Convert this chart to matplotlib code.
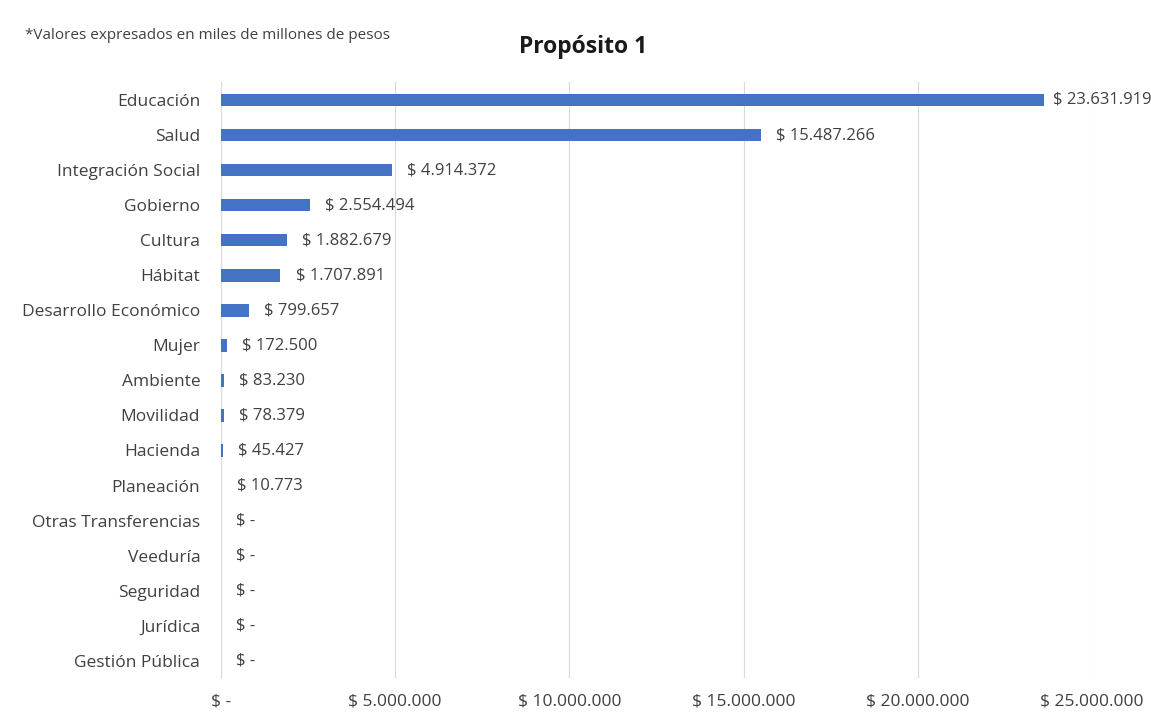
import matplotlib.pyplot as plt
from matplotlib.ticker import FuncFormatter

categorias = ['Educación', 'Salud', 'Integración Social', 'Gobierno', 'Cultura', 'Hábitat',
              'Desarrollo Económico', 'Mujer', 'Ambiente', 'Movilidad', 'Hacienda', 'Planeación',
              'Otras Transferencias', 'Veeduría', 'Seguridad', 'Jurídica', 'Gestión Pública']
valores = [23631919, 15487266, 4914372, 2554494, 1882679, 1707891,
           799657, 172500, 83230, 78379, 45427, 10773,
           0, 0, 0, 0, 0]
ticks_x = [0, 5000000, 10000000, 15000000, 20000000, 25000000]

plt.rcParams['font.family'] = ['Open Sans', 'DejaVu Sans']


def pesos(v, pos=None):
    if v == 0:
        return '$ -'
    return '$ ' + f'{int(round(v)):,}'.replace(',', '.')


fig = plt.figure(figsize=(11.51, 7.17), dpi=100)
ax = fig.add_axes([0.192, 0.054, 0.7567, 0.831])

y = list(range(len(categorias)))
ax.barh(y, valores, height=0.36, color='#4472C4', zorder=3)

for yi, v in zip(y, valores):
    # como en Excel, la etiqueta que no cabe se acerca a la barra
    dx = 6 if v > 0.9 * ticks_x[-1] else 11
    ax.annotate(pesos(v), (v, yi), xytext=(dx, 0), textcoords='offset points',
                va='center', ha='left', fontsize=12, color='#404040',
                annotation_clip=False)

ax.set_yticks(y)
ax.set_yticklabels(categorias, fontsize=12.5, color='#404040')
ax.set_ylim(len(categorias) - 0.5, -0.5)
ax.set_xlim(0, 25000000)
ax.set_xticks(ticks_x)
ax.xaxis.set_major_formatter(FuncFormatter(pesos))
ax.tick_params(axis='x', labelsize=12.5, colors='#404040', length=0, pad=11)
ax.tick_params(axis='y', length=0, pad=15)
ax.grid(axis='x', color='#d9d9d9', linewidth=0.8, zorder=0)
for s in ['top', 'right', 'bottom']:
    ax.spines[s].set_visible(False)
ax.spines['left'].set_color('#d9d9d9')

fig.text(0.507, 0.934, 'Propósito 1', ha='center', va='center', fontsize=16.5,
         fontweight='bold', color='#1a1a1a')
fig.text(0.022, 0.951, '*Valores expresados en miles de millones de pesos', ha='left',
         va='center', fontsize=11, color='#404040')

fig.savefig('out.png', dpi=100)
